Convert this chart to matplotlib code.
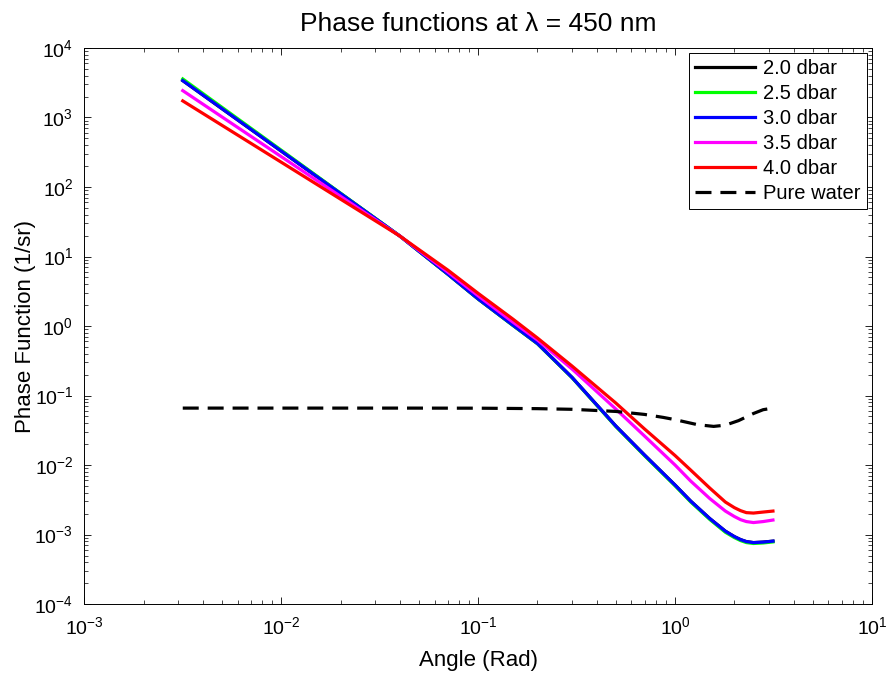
import numpy as np
import matplotlib
matplotlib.use('Agg')
import matplotlib.pyplot as plt

plt.rcParams['font.family'] = ['Liberation Sans', 'DejaVu Sans']
plt.rcParams['mathtext.fontset'] = 'custom'
plt.rcParams['mathtext.rm'] = 'Liberation Sans'
plt.rcParams['mathtext.it'] = 'Liberation Sans:italic'

# angles (rad)
angle = [0.00316, 0.01, 0.02, 0.04, 0.07, 0.1, 0.15, 0.2, 0.3, 0.5, 0.7,
         1.0, 1.2, 1.5, 1.8, 2.0, 2.15, 2.3, 2.5, 2.8, 3.14]

p30 = [3390, 328, 80.4, 19.7, 5.6, 2.45, 1.03, 0.56, 0.1815, 0.0364, 0.0139,
       0.00515, 0.00303, 0.00170, 0.00112, 0.000935, 0.000847, 0.000793,
       0.000767, 0.00078, 0.000805]
p20 = list(p30)
p25 = [3580, 338, 81.5, 19.7, 5.58, 2.44, 1.02, 0.555, 0.180, 0.0358, 0.0136,
       0.00502, 0.00295, 0.00165, 0.00108, 0.000905, 0.000820, 0.000768,
       0.000745, 0.000758, 0.000785]
p35 = [2430, 273, 73.3, 19.7, 5.98, 2.72, 1.14, 0.630, 0.240, 0.064, 0.0261,
       0.0100, 0.00589, 0.0033, 0.00218, 0.00182, 0.00164, 0.00154,
       0.00149, 0.00154, 0.00162]
p40 = [1730, 227, 66.8, 19.7, 6.40, 2.95, 1.26, 0.672, 0.265, 0.078, 0.0330,
       0.0137, 0.00847, 0.00467, 0.00294, 0.00244, 0.00221, 0.00207,
       0.00204, 0.00211, 0.00218]

water_angle = [0.00316, 0.01, 0.04, 0.1, 0.2, 0.3, 0.5, 0.7, 0.87, 1.0, 1.3,
               1.57, 1.8, 2.1, 2.3, 2.5, 2.8, 3.14]
water = [0.066, 0.066, 0.066, 0.0658, 0.0648, 0.0634, 0.0591, 0.0535, 0.0485,
         0.045, 0.0381, 0.036, 0.0375, 0.0436, 0.0493, 0.0552, 0.0626, 0.066]

series = [(p20, 'k', '2.0 dbar'), (p25, '#00ff00', '2.5 dbar'),
          (p30, '#0000ff', '3.0 dbar'), (p35, '#ff00ff', '3.5 dbar'),
          (p40, '#ff0000', '4.0 dbar')]

fig = plt.figure(figsize=(8.88, 6.75), dpi=100)
ax = fig.add_axes([0.095, 0.105, 0.887, 0.824])

for vals, c, lab in series:
    ax.loglog(angle, vals, color=c, lw=2.3, label=lab)
ax.loglog(water_angle, water, 'k--', lw=2.3, dashes=(5, 2.8), label='Pure water')

ax.set_xlim(1e-3, 1e1)
ax.set_ylim(1e-4, 1e4)
ax.set_xticks([1e-3, 1e-2, 1e-1, 1e0, 1e1])
ax.set_yticks([10.0 ** k for k in range(-4, 5)])
ax.tick_params(which='both', direction='in', top=True, right=True, labelsize=14)
ax.tick_params(axis='x', pad=9)
ax.tick_params(axis='y', pad=8)
ax.tick_params(which='major', length=5, width=0.6)
ax.tick_params(which='minor', length=3, width=0.5)
for s in ax.spines.values():
    s.set_linewidth(0.7)

ax.set_xlabel('Angle (Rad)', fontsize=16, labelpad=8)
ax.set_ylabel('Phase Function (1/sr)', fontsize=16, labelpad=-1)
ax.set_title('Phase functions at λ = 450 nm', fontsize=19, pad=12)

leg = ax.legend(loc='upper right', fontsize=14.5, fancybox=False, framealpha=1,
                edgecolor='k', borderaxespad=0.25, handlelength=3.0, labelspacing=0.3,
                borderpad=0.3, handletextpad=0.4)
leg.get_frame().set_linewidth(0.7)

fig.savefig('out.png', dpi=100)
